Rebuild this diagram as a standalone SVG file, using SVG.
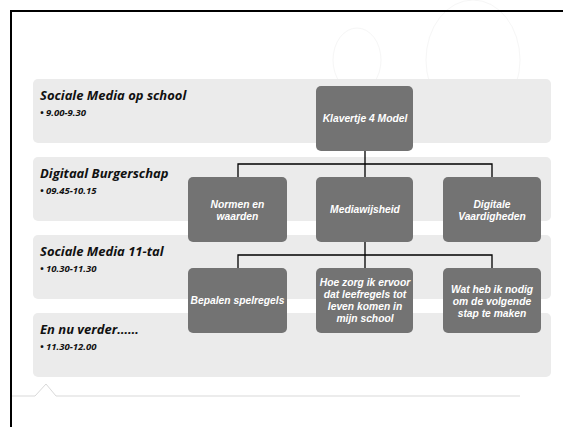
<svg xmlns="http://www.w3.org/2000/svg" width="563" height="427" viewBox="0 0 563 427">
<style>
.bar{fill:#ebebeb}
.box{fill:#737373}
.title{font-family:"Open Sans","Liberation Sans",sans-serif;font-weight:700;font-style:italic;font-size:13px;fill:#111}
.sub{font-family:"Open Sans","Liberation Sans",sans-serif;font-weight:700;font-style:italic;font-size:9.5px;fill:#111}
.lbl{font-family:"Liberation Sans",Arial,sans-serif;font-weight:700;font-style:italic;font-size:10.3px;fill:#fff;text-anchor:middle}
.conn{fill:none;stroke:#000;stroke-width:1.3}
.deco{fill:none;stroke:#f6f6f6;stroke-width:1}
</style>
<rect width="563" height="427" fill="#fff"/>
<g id="decor">
<ellipse class="deco" cx="357" cy="60" rx="24" ry="32"/>
<ellipse class="deco" cx="473" cy="60" rx="47" ry="60"/>
<path d="M12 396 H35 L46 384 L56 396 H520" fill="none" style="stroke:#d9d9d9;stroke-width:1"/>
</g>
<g id="frame">
<path d="M11 427 V11 H563" fill="none" stroke="#000" stroke-width="2"/>
</g>
<g id="bar1"><rect class="bar" x="33" y="79" width="518" height="64" rx="5"/>
<text class="title" x="40" y="100">Sociale Media op school</text>
<text class="sub" x="40" y="116">• 9.00-9.30</text></g>
<g id="bar2"><rect class="bar" x="33" y="157" width="518" height="64" rx="5"/>
<text class="title" x="40" y="178">Digitaal Burgerschap</text>
<text class="sub" x="40" y="194">• 09.45-10.15</text></g>
<g id="bar3"><rect class="bar" x="33" y="235" width="518" height="64" rx="5"/>
<text class="title" x="40" y="256">Sociale Media 11-tal</text>
<text class="sub" x="40" y="272">• 10.30-11.30</text></g>
<g id="bar4"><rect class="bar" x="33" y="313" width="518" height="64" rx="5"/>
<text class="title" x="40" y="334">En nu verder……</text>
<text class="sub" x="40" y="350">• 11.30-12.00</text></g>
<g id="connectors">
<path class="conn" d="M365 151 V164 M238 177 V164 H492 V177 M365 164 V177"/>
<path class="conn" d="M365 242 V255 M238 268 V255 H492 V268 M365 255 V268"/>
</g>
<g id="klavertje"><rect class="box" x="316" y="86" width="97" height="65" rx="5"/>
<text class="lbl" x="365" y="122">Klavertje 4 Model</text></g>
<g id="normen"><rect class="box" x="188" y="177" width="99" height="65" rx="5"/>
<text class="lbl" x="237.5" y="208">Normen en</text><text class="lbl" x="237.5" y="220">waarden</text></g>
<g id="mediawijsheid"><rect class="box" x="316" y="177" width="97" height="65" rx="5"/>
<text class="lbl" x="365" y="213">Mediawijsheid</text></g>
<g id="digitale"><rect class="box" x="443" y="177" width="98" height="65" rx="5"/>
<text class="lbl" x="492" y="208">Digitale</text><text class="lbl" x="492" y="220">Vaardigheden</text></g>
<g id="spelregels"><rect class="box" x="188" y="268" width="99" height="65" rx="5"/>
<text class="lbl" x="237.5" y="304">Bepalen spelregels</text></g>
<g id="leefregels"><rect class="box" x="316" y="268" width="97" height="65" rx="5"/>
<text class="lbl" x="365" y="286">Hoe zorg ik ervoor</text>
<text class="lbl" x="365" y="298">dat leefregels tot</text>
<text class="lbl" x="365" y="310">leven komen in</text>
<text class="lbl" x="365" y="322">mijn school</text></g>
<g id="volgende"><rect class="box" x="443" y="268" width="98" height="65" rx="5"/>
<text class="lbl" x="492" y="293">Wat heb ik nodig</text>
<text class="lbl" x="492" y="305">om de volgende</text>
<text class="lbl" x="492" y="317">stap te maken</text></g>
</svg>
